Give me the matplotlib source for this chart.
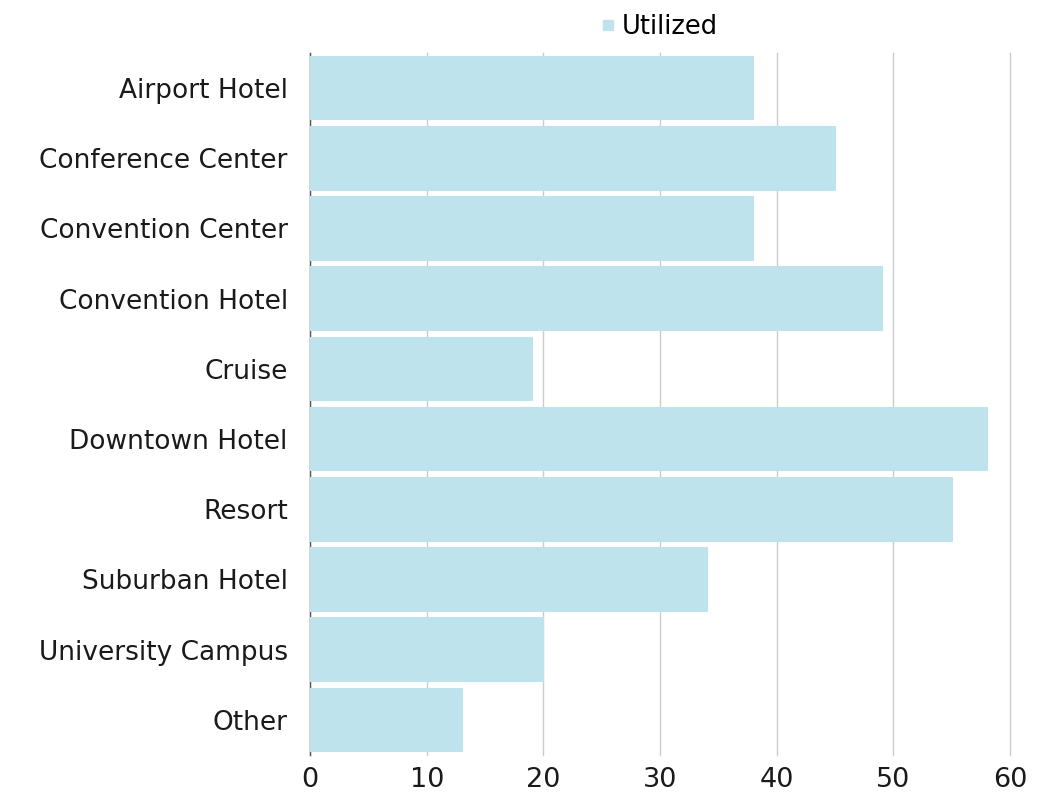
import matplotlib
matplotlib.use("Agg")
import matplotlib.pyplot as plt
from matplotlib.lines import Line2D

categories = ["Airport Hotel", "Conference Center", "Convention Center", "Convention Hotel",
              "Cruise", "Downtown Hotel", "Resort", "Suburban Hotel", "University Campus", "Other"]
utilized = [38, 45, 38, 49, 19, 58, 55, 34, 20, 13]
xticks = [0, 10, 20, 30, 40, 50, 60]

bar_color = "#bfe3ec"
plt.rcParams['font.family'] = ['DejaVu Sans']

fig = plt.figure(figsize=(10.64, 7.97), dpi=100)
ax = fig.add_axes([0.2914, 0.0527, 0.6578, 0.8808])

pos = list(range(len(categories)))
ax.barh(pos, utilized, height=0.89, color=bar_color, edgecolor=bar_color,
        linewidth=1.5, joinstyle="round", zorder=2)

ax.set_ylim(len(categories) - 0.5, -0.5)
ax.set_xlim(0, 60)
ax.set_xticks(xticks)
ax.set_yticks(pos)
ax.set_yticklabels(categories)

ax.grid(axis="x", color="#cccccc", linewidth=1, zorder=0)
for gl in ax.get_xgridlines():
    gl.set_clip_on(False)
ax.set_axisbelow(True)
for s in ["top", "right", "bottom"]:
    ax.spines[s].set_visible(False)
ax.spines["left"].set_color("#555555")
ax.spines["left"].set_linewidth(1)
ax.spines["left"].set_zorder(1)

ax.tick_params(axis="y", length=0, pad=16, labelsize=19, labelcolor="#1a1a1a")
ax.tick_params(axis="x", length=0, pad=9, labelsize=19.5, labelcolor="#1a1a1a")

handle = Line2D([], [], marker="s", linestyle="none", markersize=7,
                markerfacecolor=bar_color, markeredgecolor=bar_color)
fig.legend([handle], ["Utilized"], loc="center", bbox_to_anchor=(0.617, 0.966),
           frameon=False, fontsize=18.5, handletextpad=0.05, handlelength=1.0)

fig.savefig("out.png", dpi=100)
